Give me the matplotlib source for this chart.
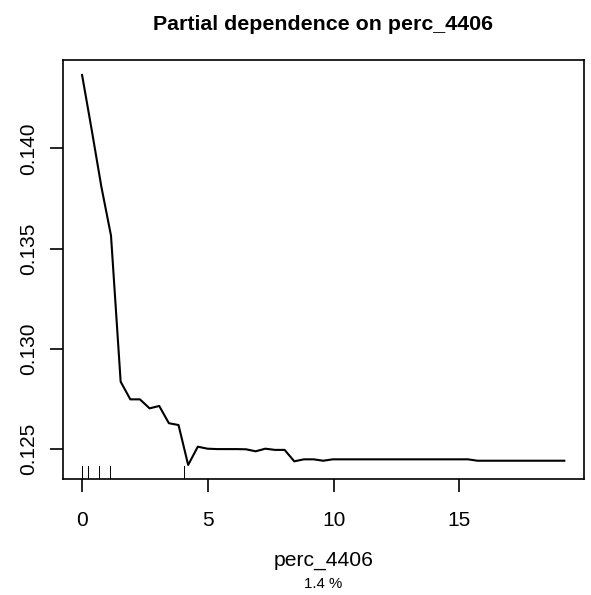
import numpy as np
import matplotlib
matplotlib.use("Agg")
import matplotlib.pyplot as plt

plt.rcParams['font.family'] = ['Liberation Sans', 'DejaVu Sans']

# Partial dependence values (grid of 51 points)
x_min, x_max, n_pts = 0.0, 19.17, 51
pd_values = [
    0.14366, 0.14092, 0.13809, 0.13565, 0.12837, 0.12749, 0.12749, 0.12704,
    0.12716, 0.12630, 0.12621, 0.12422, 0.12513, 0.12503, 0.12501, 0.12501,
    0.12501, 0.12500, 0.12490, 0.12503, 0.12497, 0.12497, 0.12440, 0.12450,
    0.12450, 0.12443, 0.12450, 0.12450, 0.12450, 0.12450, 0.12450, 0.12450,
    0.12450, 0.12450, 0.12450, 0.12450, 0.12450, 0.12450, 0.12450, 0.12450,
    0.12450, 0.12443, 0.12443, 0.12443, 0.12443, 0.12443, 0.12443, 0.12443,
    0.12443, 0.12443, 0.12443,
]
grid = np.linspace(x_min, x_max, n_pts)

# deciles of the predictor (rug)
rug_x = [0.0, 0.0, 0.0, 0.0, 0.22, 0.68, 1.11, 4.04]

x_ticks = [0, 5, 10, 15]
y_ticks = [0.125, 0.130, 0.135, 0.140]
y_tick_labels = ["0.125", "0.130", "0.135", "0.140"]

title = "Partial dependence on perc_4406"
xlabel = "perc_4406"
subtitle = "1.4 %"

W, H = 591, 595
fig = plt.figure(figsize=(W / 100, H / 100), dpi=100)
ax = fig.add_axes([62.7 / W, 1 - 479 / H, 521 / W, 419 / H])

ax.plot(grid, pd_values, color='black', lw=1.5, solid_joinstyle='round')

ax.set_xlim(-0.77, 19.94)
ax.set_ylim(0.123519, 0.144407)

trans = ax.get_xaxis_transform()
for rx in rug_x:
    ax.plot([rx, rx], [0, 0.03], transform=trans, color='black', lw=0.7)

ax.set_xticks(x_ticks)
ax.set_xticklabels([str(t) for t in x_ticks])
ax.set_yticks(y_ticks)
ax.set_yticklabels(y_tick_labels, rotation=90, va='center')
ax.tick_params(axis='both', direction='out', length=9.4, width=1.2,
               labelsize=15, color='black')
ax.tick_params(axis='x', pad=13.5)
ax.tick_params(axis='y', pad=8.5)
for s in ax.spines.values():
    s.set_linewidth(1.2)

fig.text((62.7 + 583.8) / 2 / W, 1 - 30.5 / H, title, ha='center',
         va='baseline', fontsize=15.4, fontweight='bold')
fig.text((62.7 + 583.8) / 2 / W, 1 - 565.5 / H, xlabel, ha='center',
         va='baseline', fontsize=15.2)
fig.text((62.7 + 583.8) / 2 / W, 1 - 588 / H, subtitle, ha='center',
         va='baseline', fontsize=10.8)

fig.savefig("out.png", dpi=100)
